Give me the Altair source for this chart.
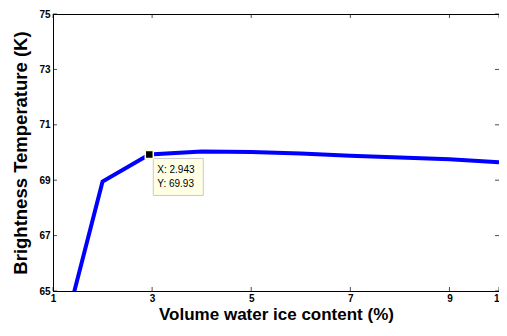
import altair as alt
import pandas as pd

# data
ice_content = [1, 2, 2.943, 4, 5, 6, 7, 8, 9, 10]
brightness = [62.0, 68.95, 69.93, 70.04, 70.02, 69.96, 69.88, 69.82, 69.76, 69.65]
x_ticks = [1, 3, 5, 7, 9, 10]
y_ticks = [65, 67, 69, 71, 73, 75]
tip_x = [2.943]
tip_y = [69.93]
tip_text = [["X: 2.943", "Y: 69.93"]]

W, H = 446, 277
FONT = "Liberation Sans"

df = pd.DataFrame({"x": ice_content, "y": brightness})
tip = pd.DataFrame({"x": tip_x, "y": tip_y, "t": tip_text})
xt = pd.DataFrame({"v": x_ticks})
yt = pd.DataFrame({"v": y_ticks})

xscale = alt.Scale(domain=[1, 10], nice=False, zero=False)
yscale = alt.Scale(domain=[65, 75], nice=False, zero=False)

xaxis = alt.Axis(values=x_ticks, format="d", tickSize=0, grid=False, domain=True,
                 domainColor="black", labelFont=FONT, labelFontWeight="bold",
                 labelFontSize=10, labelColor="black", labelPadding=2,
                 title="Volume water ice content (%)", titleFont=FONT,
                 titleFontWeight="bold", titleFontSize=17, titleColor="black",
                 titleX=W / 2, titleY=23, titleBaseline="middle", labelFlush=False)
yaxis = alt.Axis(values=y_ticks, format="d", tickSize=0, grid=False, domain=True,
                 domainColor="black", labelFont=FONT, labelFontWeight="bold",
                 labelFontSize=10, labelColor="black", labelPadding=3,
                 title="Brightness Temperature (K)", titleFont=FONT,
                 titleFontWeight="bold", titleFontSize=18.5, titleColor="black",
                 titleX=-33, titleY=H / 2, titleBaseline="middle", titleAngle=-90,
                 labelFlush=False)

line = alt.Chart(df).mark_line(color="#0000FF", strokeWidth=4, clip=True).encode(
    x=alt.X("x:Q", scale=xscale, axis=xaxis),
    y=alt.Y("y:Q", scale=yscale, axis=yaxis),
)

tick_len = 4
bottom_ticks = alt.Chart(xt).mark_tick(color="black", size=tick_len, thickness=1, orient="vertical").encode(
    x=alt.X("v:Q", scale=xscale), y=alt.value(H - tick_len / 2))
top_ticks = alt.Chart(xt).mark_tick(color="black", size=tick_len, thickness=1, orient="vertical").encode(
    x=alt.X("v:Q", scale=xscale), y=alt.value(tick_len / 2))
left_ticks = alt.Chart(yt).mark_tick(color="black", size=tick_len, thickness=1, orient="horizontal").encode(
    y=alt.Y("v:Q", scale=yscale), x=alt.value(tick_len / 2))
right_ticks = alt.Chart(yt).mark_tick(color="black", size=tick_len, thickness=1, orient="horizontal").encode(
    y=alt.Y("v:Q", scale=yscale), x=alt.value(W - tick_len / 2))

box = alt.Chart(tip).mark_rect(fill="#FFFFE6", stroke="#C8C8C8", strokeWidth=1,
                               xOffset=4, x2Offset=54, yOffset=4, y2Offset=41).encode(
    x=alt.X("x:Q", scale=xscale), x2="x:Q",
    y=alt.Y("y:Q", scale=yscale), y2="y:Q")
label = alt.Chart(tip).mark_text(font=FONT, fontSize=10, color="black", align="left",
                                 baseline="middle", dx=8, dy=16, lineHeight=14).encode(
    x=alt.X("x:Q", scale=xscale), y=alt.Y("y:Q", scale=yscale), text="t")
marker = alt.Chart(tip).mark_square(size=64, fill="black", opacity=1, stroke="#FFFFCC",
                                    strokeWidth=1.5).encode(
    x=alt.X("x:Q", scale=xscale), y=alt.Y("y:Q", scale=yscale))

chart = alt.layer(line, bottom_ticks, top_ticks, left_ticks, right_ticks, box, label, marker).properties(
    width=W, height=H,
    autosize=alt.AutoSizeParams(type="none"),
    padding={"left": 45, "top": 6, "right": 0, "bottom": 33},
    background="white",
).configure_view(stroke="black", strokeWidth=1)

chart.save("out.html", embed_options={"renderer": "svg", "actions": False})
